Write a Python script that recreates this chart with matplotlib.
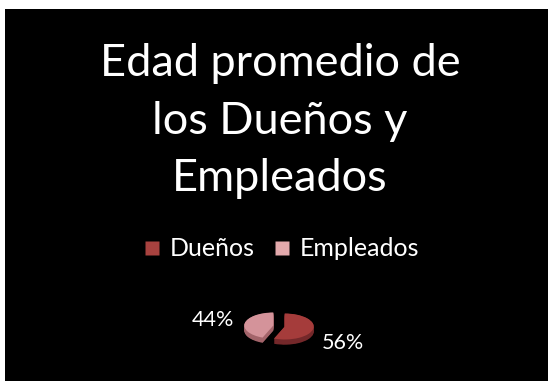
import numpy as np
import matplotlib
matplotlib.use('Agg')
from matplotlib import pyplot as plt
from matplotlib.lines import Line2D
from matplotlib.patches import Rectangle

# datos
categorias = ['Dueños', 'Empleados']
valores = [56, 44]
titulo = 'Edad promedio de\nlos Dueños y\nEmpleados'

colores_top = ['#a53c3b', '#d4939a']
colores_lado = ['#74282a', '#a3646a']
colores_leyenda = ['#a8423f', '#e3a9ac']

plt.rcParams['font.family'] = ['Lato', 'DejaVu Sans']

W, H = 550, 381
fig = plt.figure(figsize=(W / 100, H / 100), dpi=100)
fig.patch.set_facecolor('white')
# fondo negro de la diapositiva
fig.patches.append(Rectangle((5 / W, 0), 543 / W, 372 / H, transform=fig.transFigure,
                             facecolor='black', edgecolor='none', zorder=-5))

fig.text(280 / W, 1 - 121 / H, titulo, color='white', fontsize=32.5, ha='center',
         va='center', linespacing=1.5)

# leyenda
handles = [Line2D([], [], marker='s', linestyle='none', markersize=10.5,
                  markerfacecolor=c, markeredgecolor='none') for c in colores_leyenda]
leg = fig.legend(handles, categorias, loc='center', bbox_to_anchor=(280.5 / W, 1 - 249 / H),
                 ncol=2, frameon=False, fontsize=18, labelcolor='white',
                 handletextpad=0.3, columnspacing=0.72, handlelength=0.8)

# pastel con un poco de profundidad (elipse: 29 px x 13 px de radio)
ax = fig.add_axes([235.5 / W, 1 - 345.5 / H, 87 / W, 39 / H])
ax.set_facecolor('none')
ax.set_zorder(2)
explode = [0.2, 0.2]
depth = 0.4
for d in np.linspace(depth, 0.02, 10):
    ax.pie(valores, colors=colores_lado, startangle=90, counterclock=False,
           explode=explode, radius=1, center=(0, -d),
           wedgeprops=dict(linewidth=0))
wedges, _ = ax.pie(valores, colors=colores_top, startangle=90, counterclock=False,
                   explode=explode, radius=1, wedgeprops=dict(linewidth=0))
ax.set_aspect('auto')
ax.set_xlim(-1.5, 1.5)
ax.set_ylim(-1.5, 1.5)

# etiquetas de porcentaje
total = sum(valores)
pos_etiquetas = [(2.2, -1.3), (-2.28, 0.45)]
for v, (dx, dy) in zip(valores, pos_etiquetas):
    ax.text(dx, dy, f'{v / total * 100:.0f}%', color='white', fontsize=15.5,
            ha='center', va='center', clip_on=False)

fig.savefig('out.png', dpi=100, facecolor='white')
